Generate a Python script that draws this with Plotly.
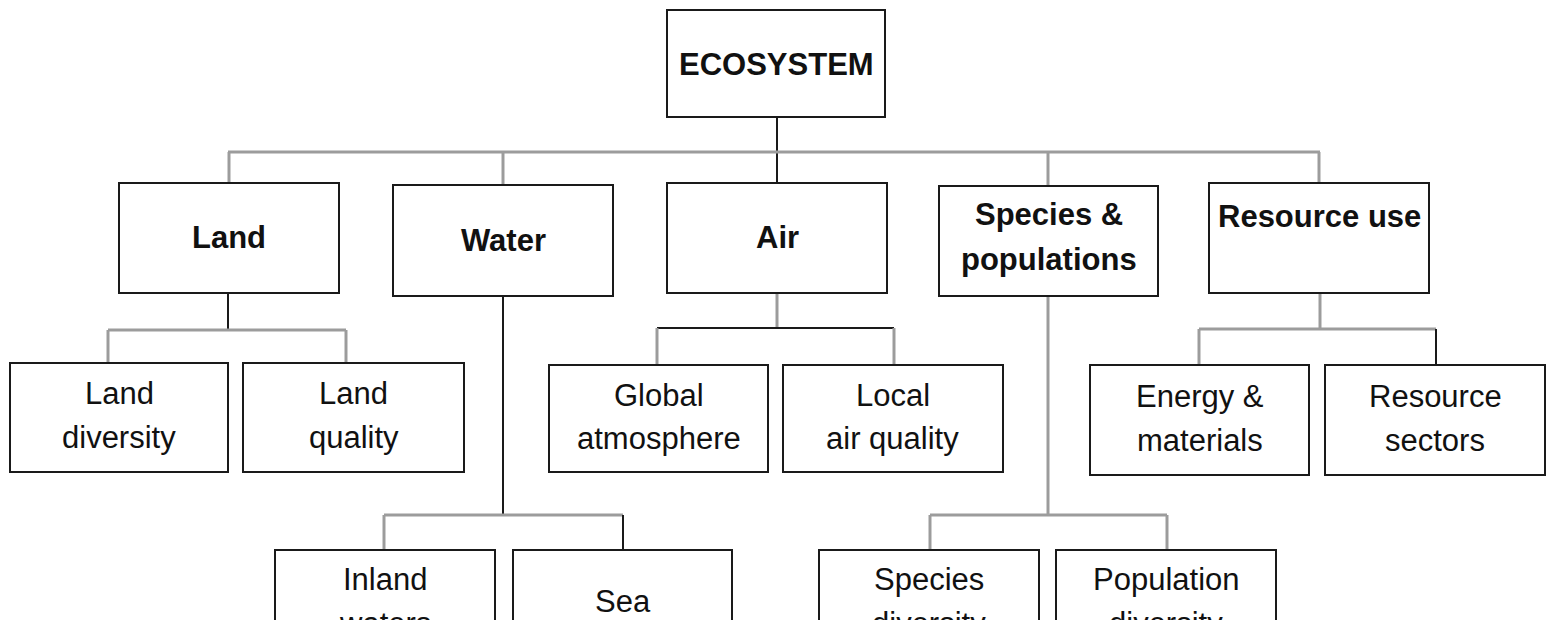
import plotly.graph_objects as go

# Libellés du diagramme
root_label = "ECOSYSTEM"
level1_labels = ["Land", "Water", "Air", "Species &\npopulations", "Resource use"]
level2_labels = [
    ["Land\ndiversity", "Land\nquality"],
    ["Inland\nwaters", "Sea"],
    ["Global\natmosphere", "Local\nair quality"],
    ["Species\ndiversity", "Population\ndiversity"],
    ["Energy &\nmaterials", "Resource\nsectors"],
]

# Mise en page (pixels) : boîtes (x0, y0, x1, y1) et centre du texte
root_box = (667, 10, 885, 117)
root_text_y = 64
level1_boxes = [
    (119, 183, 339, 293),
    (393, 185, 613, 296),
    (667, 183, 887, 293),
    (939, 186, 1158, 296),
    (1209, 183, 1429, 293),
]
level1_text_y = [238, 240, 238, 237, 216]
level2_boxes = [
    [(10, 363, 228, 472), (243, 363, 464, 472)],
    [(275, 550, 495, 655), (513, 550, 732, 655)],
    [(549, 365, 768, 472), (783, 365, 1003, 472)],
    [(819, 550, 1039, 655), (1056, 550, 1276, 655)],
    [(1090, 365, 1309, 475), (1325, 365, 1545, 475)],
]
level2_text_y = [415, 415, 601, 601, 417, 417, 601, 601, 418, 418]

# Connecteurs : (tige x, y haut, y barre, barre x0, barre x1, chutes x, y bas, couleurs tige/barre/chutes)
GRAY = "#9c9c9c"
BLACK = "#1a1a1a"
connectors = [
    (228, 293, 330, 108, 346, [108, 346], 363, BLACK, GRAY, [GRAY, GRAY]),
    (503, 296, 515, 384, 623, [384, 623], 550, BLACK, GRAY, [GRAY, BLACK]),
    (777, 293, 328, 657, 894, [657, 894], 365, GRAY, BLACK, [GRAY, GRAY]),
    (1048, 296, 515, 930, 1167, [930, 1167], 550, GRAY, GRAY, [GRAY, GRAY]),
    (1320, 293, 329, 1199, 1436, [1199, 1436], 365, GRAY, GRAY, [GRAY, BLACK]),
]

W, H = 1547, 620
fig = go.Figure()
shapes = []
annotations = []


def add_line(x0, y0, x1, y1, color, width):
    shapes.append(dict(type="line", x0=x0, y0=y0, x1=x1, y1=y1,
                       line=dict(color=color, width=width), layer="below"))


def add_box(box):
    x0, y0, x1, y1 = box
    shapes.append(dict(type="rect", x0=x0, y0=y0, x1=x1, y1=y1,
                       line=dict(color=BLACK, width=2), fillcolor="white"))


def add_text(label, xc, yc, bold):
    # repère "paper" pour que les lignes coupées au bord restent affichées
    lines = label.split("\n")
    gap = 45 if bold else 44
    start = yc - gap * (len(lines) - 1) / 2
    for i, ln in enumerate(lines):
        annotations.append(dict(
            xref="paper", yref="paper",
            x=xc / W, y=1 - (start + i * gap) / H,
            text=f"<b>{ln}</b>" if bold else ln,
            showarrow=False, xanchor="center", yanchor="middle",
            font=dict(family="Liberation Sans, Arial", size=31, color="#111111"),
        ))


# Racine et barre principale
add_line(777, root_box[3], 777, level1_boxes[2][1], BLACK, 2)
add_line(228, 152, 1320, 152, GRAY, 3)
for b in level1_boxes:
    xc = (b[0] + b[2]) / 2
    if abs(xc - 777) > 5:
        add_line(round(xc), 152, round(xc), b[1], GRAY, 3)

# Connecteurs des sous-niveaux
for stem_x, y_top, bar_y, bx0, bx1, drops, y_bot, c_stem, c_bar, c_drops in connectors:
    add_line(stem_x, y_top, stem_x, bar_y, c_stem, 2 if c_stem == BLACK else 3)
    add_line(bx0, bar_y, bx1, bar_y, c_bar, 2 if c_bar == BLACK else 3)
    for dx, cd in zip(drops, c_drops):
        add_line(dx, bar_y, dx, y_bot, cd, 2 if cd == BLACK else 3)

# Boîtes et textes
add_box(root_box)
add_text(root_label, (root_box[0] + root_box[2]) / 2, root_text_y, True)
for lab, b, ty in zip(level1_labels, level1_boxes, level1_text_y):
    add_box(b)
    add_text(lab, (b[0] + b[2]) / 2, ty, True)
k = 0
for labs, boxes in zip(level2_labels, level2_boxes):
    for lab, b in zip(labs, boxes):
        add_box(b)
        add_text(lab, (b[0] + b[2]) / 2, level2_text_y[k], False)
        k += 1

fig.update_layout(
    width=W, height=H,
    margin=dict(l=0, r=0, t=0, b=0),
    paper_bgcolor="white", plot_bgcolor="white",
    xaxis=dict(range=[0, W], visible=False, fixedrange=True),
    yaxis=dict(range=[H, 0], visible=False, fixedrange=True),
    shapes=shapes, annotations=annotations,
    showlegend=False,
)

# Supprimer la marge par défaut de la page
fig.write_html("out.html", config={"displayModeBar": False},
               post_script="document.body.style.margin='0';document.body.style.overflow='hidden';")
